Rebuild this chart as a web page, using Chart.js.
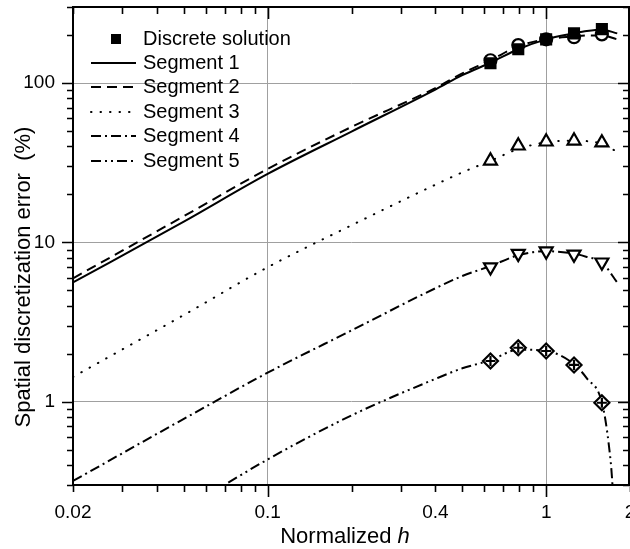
<!DOCTYPE html>
<html>
<head>
<meta charset="utf-8">
<script src="https://cdn.jsdelivr.net/npm/chart.js@4/dist/chart.umd.min.js"></script>
<style>
    html, body { margin: 0; padding: 0; background: #fff; }
    #wrap { width: 630px; height: 549px; }
</style>
</head>
<body>
<div id="wrap"><canvas id="myChart" width="630" height="549"></canvas></div>
<script>
// normalized h where the curves were read
let hCurve = [0.02, 0.05, 0.1, 0.2, 0.4, 0.5, 0.631, 0.794, 1, 1.259, 1.4, 1.585, 1.8]
let seg1 = [5.6, 13.5, 26.9, 49.6, 91, 112, 134, 163, 188, 205, 212, 216, 205]
let seg2 = [5.95, 14.6, 28.9, 53, 93, 115, 139, 170, 188, 196, 199, 199, 188]
let seg3 = [1.43, 3.5, 6.98, 12.8, 23, 27.5, 32.5, 38.5, 42.5, 43.4, 43.2, 41.5, 37]
let seg4 = [0.318, 0.78, 1.52, 2.8, 5.15, 6.15, 7.1, 8.3, 8.8, 8.5, 8.1, 7.5, 5.6]

let hSeg5 = [0.05, 0.1, 0.2, 0.4, 0.5, 0.631, 0.794, 1, 1.259, 1.4, 1.585, 1.68, 1.73, 1.76]
let seg5 = [0.21, 0.434, 0.82, 1.39, 1.62, 1.82, 2.12, 2.08, 1.72, 1.4, 0.99, 0.53, 0.3, 0.15]

// discrete solution points
let hDisc = [0.631, 0.794, 1, 1.259, 1.585]
let disc1 = [133, 163, 188, 205, 218]
let disc2 = [139, 173, 188, 194, 202]
let disc3 = [32.5, 40.4, 42.8, 43.4, 42.2]
let disc4 = [7.0, 8.5, 8.8, 8.4, 7.5]
let disc5 = [1.8, 2.18, 2.08, 1.70, 0.985]

let xTicks = [0.02, 0.1, 0.4, 1, 2]
let yTicks = [1, 10, 100]
let legendLabels = ['Discrete solution', 'Segment 1', 'Segment 2', 'Segment 3', 'Segment 4', 'Segment 5']

const FONT = '"Liberation Sans", Arial, sans-serif'

function pts(xs, ys) {
    return xs.map((x, i) => ({ x: x, y: ys[i] }))
}

function curve(label, xs, ys, dash, cap) {
    return {
        label: label,
        data: pts(xs, ys),
        showLine: true,
        borderColor: '#000',
        borderWidth: 2,
        borderDash: dash,
        borderCapStyle: cap || 'butt',
        pointRadius: 0,
        cubicInterpolationMode: 'monotone',
        order: 1
    }
}

function markers(ys, style, radius, fill, rot) {
    return {
        label: '',
        data: pts(hDisc, ys),
        showLine: false,
        pointStyle: style,
        pointRadius: radius,
        pointRotation: rot || 0,
        pointBackgroundColor: fill,
        pointBorderColor: '#000',
        pointBorderWidth: 2.2,
        order: 0
    }
}

let datasets = [
    markers(disc1, 'rect', 7, '#000'),
    markers(disc2, 'circle', 6, '#fff'),
    markers(disc3, 'triangle', 7.5, '#fff'),
    markers(disc4, 'triangle', 7.5, '#fff', 180),
    markers(disc5, 'cross', 5, '#000'),
    markers(disc5, 'rectRot', 7.5, '#fff'),
    curve('Segment 1', hCurve, seg1, []),
    curve('Segment 2', hCurve, seg2, [10, 6]),
    curve('Segment 3', hCurve, seg3, [0.5, 9], 'round'),
    curve('Segment 4', hCurve, seg4, [10, 4, 2, 4]),
    curve('Segment 5', hSeg5, seg5, [10, 4, 2, 4, 2, 4])
]

// frame, minor ticks, axis titles and legend
const decorations = {
    id: 'decorations',
    afterDraw(chart) {
        const ctx = chart.ctx
        const a = chart.chartArea
        const xs = chart.scales.x
        const ys = chart.scales.y
        ctx.save()
        ctx.strokeStyle = '#000'
        ctx.lineWidth = 2
        ctx.strokeRect(a.left, a.top, a.right - 1 - a.left, a.bottom - a.top)

        // x ticks
        let xv = []
        for (let d of [0.01, 0.1, 1]) {
            for (let k = 1; k < 10; k++) {
                let v = +(k * d).toFixed(3)
                if (v >= 0.02 && v <= 2) xv.push(v)
            }
        }
        ctx.beginPath()
        for (let v of xv) {
            let px = Math.round(xs.getPixelForValue(v)) + 0.5
            let len = (v === 0.1 || v === 1) ? 12 : 7
            ctx.moveTo(px, a.bottom)
            ctx.lineTo(px, a.bottom + len)
            ctx.moveTo(px, a.top)
            ctx.lineTo(px, a.top + len)
        }
        // y ticks
        for (let d of [0.1, 1, 10, 100]) {
            for (let k = 1; k < 10; k++) {
                let v = k * d
                if (v < 0.3 || v > 300) continue
                let py = Math.round(ys.getPixelForValue(v)) + 0.5
                let len = (k === 1) ? 11 : 6
                ctx.moveTo(a.left, py)
                ctx.lineTo(a.left - len, py)
                ctx.moveTo(a.right - 1, py)
                ctx.lineTo(a.right - 1 - len, py)
            }
        }
        ctx.lineWidth = 1.6
        ctx.stroke()

        // axis titles
        ctx.fillStyle = '#000'
        ctx.textBaseline = 'alphabetic'
        let t1 = 'Normalized '
        ctx.font = 'italic 22px ' + FONT
        let w2 = ctx.measureText('h').width
        ctx.font = '22px ' + FONT
        let w1 = ctx.measureText(t1).width
        let x0 = 345 - (w1 + w2) / 2
        ctx.textAlign = 'left'
        ctx.fillText(t1, x0, 543)
        ctx.font = 'italic 22px ' + FONT
        ctx.fillText('h', x0 + w1, 543)

        ctx.save()
        ctx.translate(24, 277)
        ctx.rotate(-Math.PI / 2)
        ctx.font = '22px ' + FONT
        ctx.textAlign = 'center'
        ctx.textBaseline = 'middle'
        ctx.fillText('Spatial discretization error  (%)', 0, 0)
        ctx.restore()

        // legend
        ctx.font = '20px ' + FONT
        ctx.textAlign = 'left'
        ctx.textBaseline = 'middle'
        let rowY = [39, 63, 87, 112, 136, 161]
        ctx.fillRect(111, 34, 10, 10)
        ctx.fillText(legendLabels[0], 143, rowY[0])
        for (let i = 1; i < 6; i++) {
            let ds = chart.data.datasets[5 + i]
            ctx.beginPath()
            ctx.setLineDash(ds.borderDash)
            ctx.lineCap = ds.borderCapStyle
            ctx.lineWidth = 2
            ctx.moveTo(91, rowY[i])
            ctx.lineTo(136, rowY[i])
            ctx.stroke()
            ctx.setLineDash([])
            ctx.fillText(legendLabels[i], 143, rowY[i])
        }
        ctx.restore()
    }
}

let ctx = document.getElementById('myChart').getContext('2d')

let chart = new Chart(ctx, {
    type: 'scatter',
    data: { datasets: datasets },
    options: {
        responsive: false,
        animation: false,
        devicePixelRatio: 1,
        layout: { autoPadding: false, padding: { top: 7, right: 0, left: 0, bottom: 0 } },
        plugins: {
            legend: { display: false },
            tooltip: { enabled: false }
        },
        scales: {
            x: {
                type: 'logarithmic',
                min: 0.02,
                max: 2,
                afterBuildTicks: s => { s.ticks = xTicks.map(v => ({ value: v })) },
                afterFit: s => { s.height = 64; s.paddingLeft = 0; s.paddingRight = 0 },
                border: { display: false },
                grid: {
                    drawTicks: false,
                    lineWidth: 1,
                    color: c => (c.tick && (c.tick.value === 0.1 || c.tick.value === 1)) ? '#a0a0a0' : 'rgba(0,0,0,0)'
                },
                ticks: {
                    autoSkip: false,
                    maxRotation: 0,
                    padding: 16,
                    color: '#000',
                    font: { family: FONT, size: 19 },
                    callback: v => String(v)
                }
            },
            y: {
                type: 'logarithmic',
                min: 0.3,
                max: 300,
                afterBuildTicks: s => { s.ticks = yTicks.map(v => ({ value: v })) },
                afterFit: s => { s.width = 73; s.paddingTop = 0; s.paddingBottom = 0 },
                border: { display: false },
                grid: {
                    drawTicks: false,
                    lineWidth: 1,
                    color: '#a0a0a0'
                },
                ticks: {
                    autoSkip: false,
                    padding: 18,
                    color: '#000',
                    font: { family: FONT, size: 19 },
                    callback: v => String(v)
                }
            }
        }
    },
    plugins: [decorations]
})
</script>
</body>
</html>
